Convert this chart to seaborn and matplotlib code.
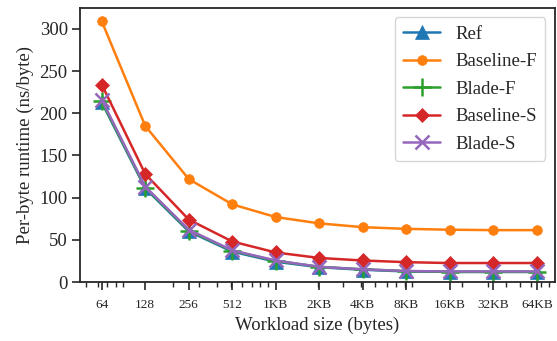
import matplotlib
matplotlib.use("Agg")
import matplotlib.pyplot as plt
import seaborn as sns
import pandas as pd
from matplotlib.ticker import FixedLocator, FixedFormatter, LogLocator, NullFormatter

sizes = [64, 128, 256, 512, 1024, 2048, 4096, 8192, 16384, 32768, 65536]
tick_labels = ["64", "128", "256", "512", "1KB", "2KB", "4KB", "8KB", "16KB", "32KB", "64KB"]

ref = [213, 111, 60, 36, 24, 17.5, 14.5, 12.5, 12, 12, 12]
baseline_f = [309, 185, 122, 92, 77, 69.5, 65, 63, 62, 61.5, 61.5]
blade_f = [214, 112, 61, 37, 25, 18, 15, 13, 12, 12, 12]
baseline_s = [234, 128, 74, 48, 35, 28.5, 25.5, 23.5, 22.5, 22.5, 22.5]
blade_s = [216, 113, 62, 37.5, 25.5, 18, 15, 13, 12.5, 12.5, 12.5]

series = ["Ref", "Baseline-F", "Blade-F", "Baseline-S", "Blade-S"]
values = [ref, baseline_f, blade_f, baseline_s, blade_s]

sns.set_style("ticks")
plt.rcParams["font.family"] = ["Liberation Serif", "DejaVu Serif"]

df = pd.concat([pd.DataFrame({"size": sizes, "runtime": v, "series": s}) for s, v in zip(series, values)])

palette = dict(zip(series, sns.color_palette("tab10", 5)))
markers = {"Ref": "^", "Baseline-F": "o", "Blade-F": "+", "Baseline-S": "D", "Blade-S": "x"}
msizes = {"Ref": 10, "Baseline-F": 7, "Blade-F": 13, "Baseline-S": 7, "Blade-S": 10}

fig, ax = plt.subplots(figsize=(5.57, 3.41), dpi=100)
for s in series:
    sub = df[df["series"] == s]
    sns.lineplot(data=sub, x="size", y="runtime", ax=ax, color=palette[s], marker=markers[s],
                 markersize=msizes[s], markeredgewidth=1.8 if s in ("Blade-F", "Blade-S") else 0.5,
                 markeredgecolor=palette[s], linewidth=1.8, label=s)

ax.set_xscale("log")
ax.xaxis.set_major_locator(FixedLocator(sizes))
ax.xaxis.set_major_formatter(FixedFormatter(tick_labels))
ax.xaxis.set_minor_locator(LogLocator(base=10, subs=range(2, 10)))
ax.xaxis.set_minor_formatter(NullFormatter())
ax.set_xlim(45.4, 87200)
ax.set_ylim(0, 325)
ax.set_yticks([0, 50, 100, 150, 200, 250, 300])
ax.tick_params(axis="x", which="major", labelsize=9.5, length=6, width=1.2, pad=6)
ax.tick_params(axis="x", which="minor", length=3.5, width=1)
ax.tick_params(axis="y", labelsize=13.5, length=5.5, width=1.2)
ax.set_xlabel("Workload size (bytes)", fontsize=13.5)
ax.set_ylabel("Per-byte runtime (ns/byte)", fontsize=13.5)
for sp in ax.spines.values():
    sp.set_linewidth(1.3)
ax.legend(loc="upper right", fontsize=13.5, frameon=True, fancybox=True, framealpha=0.8,
          handlelength=2.0, borderpad=0.45, labelspacing=0.55, borderaxespad=0.5)
fig.subplots_adjust(left=0.144, right=0.996, top=0.977, bottom=0.173)
fig.savefig("out.png", dpi=100)
